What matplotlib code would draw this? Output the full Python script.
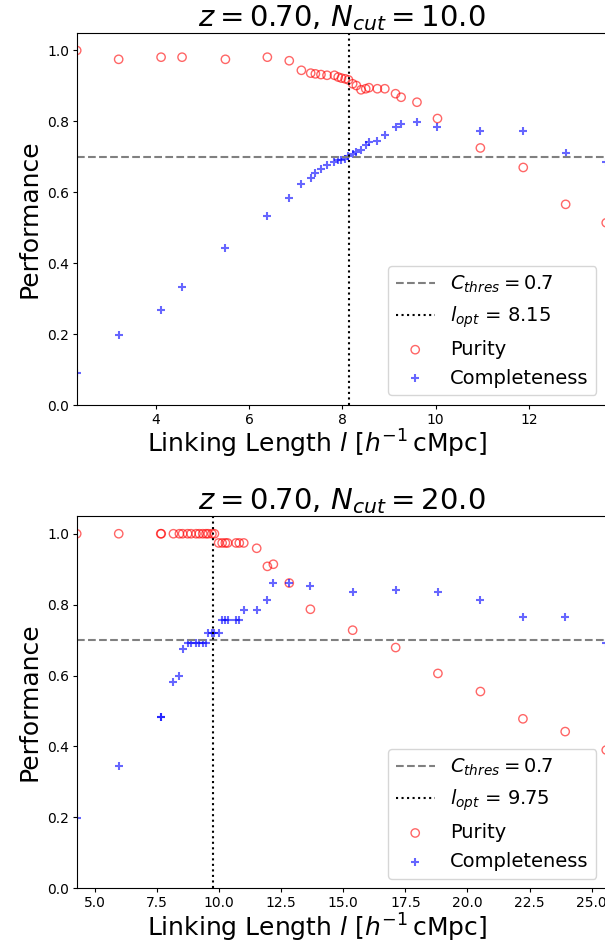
import matplotlib
matplotlib.use("Agg")
import matplotlib.pyplot as plt
import numpy as np

# z = 0.70, N_cut = 10
link_10 = np.array([2.30, 3.20, 4.11, 4.56, 5.49, 6.39, 6.86, 7.12, 7.32, 7.42,
                    7.54, 7.67, 7.83, 7.91, 7.98, 8.06, 8.13, 8.22, 8.30, 8.40,
                    8.50, 8.57, 8.75, 8.91, 9.14, 9.26, 9.60, 10.04, 10.96, 11.88,
                    12.79, 13.66])
purity_10 = [1.0, 0.975, 0.981, 0.981, 0.975, 0.981, 0.971, 0.944, 0.936, 0.934,
             0.932, 0.930, 0.930, 0.925, 0.922, 0.920, 0.917, 0.906, 0.901, 0.889,
             0.892, 0.895, 0.892, 0.892, 0.878, 0.868, 0.854, 0.808, 0.725, 0.670,
             0.566, 0.514]
compl_10 = [0.091, 0.197, 0.267, 0.334, 0.442, 0.534, 0.585, 0.624, 0.639, 0.653,
            0.667, 0.676, 0.685, 0.690, 0.690, 0.695, 0.701, 0.707, 0.714, 0.718,
            0.732, 0.742, 0.746, 0.761, 0.784, 0.792, 0.798, 0.784, 0.773, 0.773,
            0.711, 0.685]
lopt_10 = 8.15

# z = 0.70, N_cut = 20
link_20 = np.array([4.28, 5.97, 7.66, 7.68, 8.17, 8.41, 8.54, 8.74, 8.88, 9.08,
                    9.21, 9.35, 9.48, 9.57, 9.72, 9.82, 9.99, 10.13, 10.26, 10.35,
                    10.69, 10.82, 11.00, 11.52, 11.95, 12.19, 12.83, 13.68, 15.38, 17.11,
                    18.81, 20.52, 22.23, 23.93, 25.58])
purity_20 = [1.0, 1.0, 1.0, 1.0, 1.0, 1.0, 1.0, 1.0, 1.0, 1.0,
             1.0, 1.0, 1.0, 1.0, 1.0, 1.0, 0.974, 0.974, 0.974, 0.974,
             0.974, 0.974, 0.974, 0.959, 0.908, 0.914, 0.861, 0.787, 0.728, 0.679,
             0.606, 0.555, 0.478, 0.442, 0.390]
compl_20 = [0.197, 0.344, 0.482, 0.482, 0.582, 0.598, 0.675, 0.692, 0.692, 0.692,
            0.692, 0.692, 0.692, 0.720, 0.720, 0.720, 0.720, 0.758, 0.758, 0.758,
            0.758, 0.758, 0.786, 0.786, 0.812, 0.861, 0.861, 0.854, 0.837, 0.842,
            0.837, 0.812, 0.765, 0.765, 0.692]
lopt_20 = 9.75

c_thres = 0.7

panels = [
    (link_10, purity_10, compl_10, lopt_10, 10.0),
    (link_20, purity_20, compl_20, lopt_20, 20.0),
]

fig = plt.figure(figsize=(6.05, 9.43), dpi=100)
positions = [[0.1268, 0.5705, 0.8752, 0.3948],
             [0.1268, 0.0580, 0.8752, 0.3948]]

for pos, (x, pur, comp, lopt, ncut) in zip(positions, panels):
    ax = fig.add_axes(pos)
    ax.axhline(c_thres, color="gray", ls="--", label=r"$C_{thres} = 0.7$")
    ax.axvline(lopt, color="k", ls=":", label=r"$l_{opt}$ = %.2f" % lopt)
    ax.scatter(x, pur, facecolors="none", edgecolors="r", alpha=0.6, label="Purity")
    ax.scatter(x, comp, marker="+", color="b", alpha=0.6, label="Completeness")
    ax.set_xlim(x.min(), x.max())
    ax.set_ylim(0, 1.05)
    ax.tick_params(length=3, pad=2.5)
    ax.set_title(r"$z = 0.70$, $N_{cut} = %.1f$" % ncut, fontsize=21, pad=5)
    ax.set_xlabel(r"Linking Length $l$ [$h^{-1}\,$cMpc]", fontsize=18,
                  labelpad=1, x=0.453)
    ax.set_ylabel("Performance", fontsize=18)
    ax.legend(loc="lower right", fontsize=14)

fig.savefig("out.png", dpi=100)
